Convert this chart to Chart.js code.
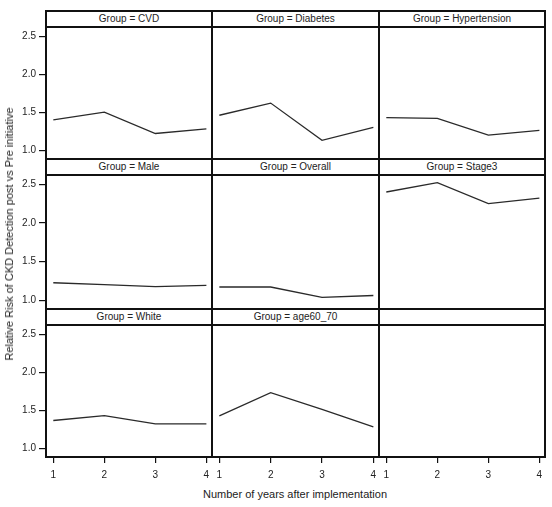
<!DOCTYPE html>
<html>
<head>
<meta charset="utf-8">
<script src="https://cdn.jsdelivr.net/npm/chart.js@4"></script>
<style>
  html, body { margin: 0; padding: 0; background: #ffffff; }
  #wrap { position: relative; width: 552px; height: 507px; overflow: hidden; font-family: "Liberation Sans", Arial, sans-serif; }
  #wrap canvas { position: absolute; }
  .hdr { position: absolute; height: 16px; line-height: 16px; text-align: center; font-size: 10px; color: #222; }
  .ln { position: absolute; background: #111; }
  .ytitle { position: absolute; left: 9px; top: 234px; transform: translate(-50%, -50%) rotate(-90deg); white-space: nowrap; font-size: 11px; color: #222; }
  .xtitle { position: absolute; left: 295px; top: 494px; transform: translate(-50%, -50%); white-space: nowrap; font-size: 11px; color: #222; }
</style>
</head>
<body>
<div id="wrap"></div>
<script>
// ===== DATA (relative risk by year after implementation) =====
const years = [1, 2, 3, 4];
const groups = ['CVD', 'Diabetes', 'Hypertension', 'Male', 'Overall', 'Stage3', 'White', 'age60_70', ''];
const cvd          = [1.40, 1.50, 1.22, 1.28];
const diabetes     = [1.46, 1.62, 1.13, 1.30];
const hypertension = [1.43, 1.42, 1.20, 1.26];
const male         = [1.225, 1.20, 1.175, 1.19];
const overall      = [1.17, 1.17, 1.035, 1.06];
const stage3       = [2.40, 2.52, 2.25, 2.32];
const white        = [1.365, 1.43, 1.32, 1.32];
const age60_70     = [1.425, 1.73, 1.51, 1.28];
const yTicks = [1.0, 1.5, 2.0, 2.5];
const xTicks = [1, 2, 3, 4];

const series = [cvd, diabetes, hypertension, male, overall, stage3, white, age60_70, null];

// panel geometry (plot areas) -- cols / rows
const colX = [[46, 212], [212, 379], [379, 545]];
const rowY = [[27, 159], [175, 309], [325, 457]];
const HDR = 16;
const FONT = '"Liberation Sans", Arial, sans-serif';

const wrap = document.getElementById('wrap');

function addDiv(cls, css, text) {
  const d = document.createElement('div');
  d.className = cls;
  Object.assign(d.style, css);
  if (text) d.textContent = text;
  wrap.appendChild(d);
  return d;
}

// fixed axis size, no label overhang padding (keeps the panel areas exact)
function fixAxis(s, prop, size) {
  s[prop] = size;
  s.paddingTop = 0; s.paddingBottom = 0; s.paddingLeft = 0; s.paddingRight = 0;
}

// ===== ONE PANEL = ONE CHART =====
function renderPanel(i) {
  const c = i % 3, r = Math.floor(i / 3);
  const [x0, x1] = colX[c];
  const [y0, y1] = rowY[r];
  const showY = c === 0, showX = r === 2;
  const left = showY ? 0 : x0;
  const w = x1 - left;
  const h = (y1 - y0) + (showX ? 30 : 0);

  const cv = document.createElement('canvas');
  cv.width = w; cv.height = h;
  cv.style.left = left + 'px'; cv.style.top = y0 + 'px';
  cv.style.width = w + 'px'; cv.style.height = h + 'px';
  wrap.appendChild(cv);

  addDiv('hdr', { left: x0 + 'px', top: (y0 - HDR) + 'px', width: (x1 - x0) + 'px' }, groups[i] ? 'Group = ' + groups[i] : '');

  const vals = series[i];
  new Chart(cv, {
    type: 'line',
    data: {
      datasets: [{
        data: vals ? years.map((yr, k) => ({ x: yr, y: vals[k] })) : [],
        borderColor: '#2a2a2a',
        borderWidth: 1.3,
        pointRadius: 0,
        tension: 0,
        fill: false
      }]
    },
    options: {
      responsive: false,
      animation: false,
      devicePixelRatio: 1,
      layout: { padding: 0 },
      plugins: { legend: { display: false }, tooltip: { enabled: false } },
      scales: {
        x: {
          type: 'linear',
          display: showX,
          min: 0.857, max: 4.11,
          afterBuildTicks: s => { s.ticks = xTicks.map(v => ({ value: v })); },
          afterFit: s => fixAxis(s, 'height', showX ? 30 : 0),
          ticks: { color: '#222', font: { family: FONT, size: 10 }, padding: 6, maxRotation: 0, callback: v => String(v) },
          grid: { drawOnChartArea: false, tickLength: 6, color: '#111', lineWidth: 1.2 },
          border: { display: false }
        },
        y: {
          display: showY,
          min: 0.885, max: 2.62,
          afterBuildTicks: s => { s.ticks = yTicks.map(v => ({ value: v })); },
          afterFit: s => fixAxis(s, 'width', showY ? 46 : 0),
          ticks: { color: '#222', font: { family: FONT, size: 10 }, padding: 3, callback: v => Number(v).toFixed(1) },
          grid: { drawOnChartArea: false, tickLength: 7, color: '#111', lineWidth: 1.2 },
          border: { display: false }
        }
      }
    }
  });
}

// ===== FRAME LINES =====
function renderFrame() {
  const hLines = [11, 27, 159, 175, 309, 325, 457];
  hLines.forEach(y => addDiv('ln', { left: '46px', top: (y - 1) + 'px', width: '500px', height: '2px' }));
  [46, 212, 379, 545].forEach(x => addDiv('ln', { left: (x - 1) + 'px', top: '10px', width: (x === 46 ? 1.5 : 2) + 'px', height: '448px' }));
}

for (let i = 0; i < 9; i++) renderPanel(i);
renderFrame();
addDiv('ytitle', {}, 'Relative Risk of CKD Detection post vs Pre initiative');
addDiv('xtitle', {}, 'Number of years after implementation');
</script>
</body>
</html>
